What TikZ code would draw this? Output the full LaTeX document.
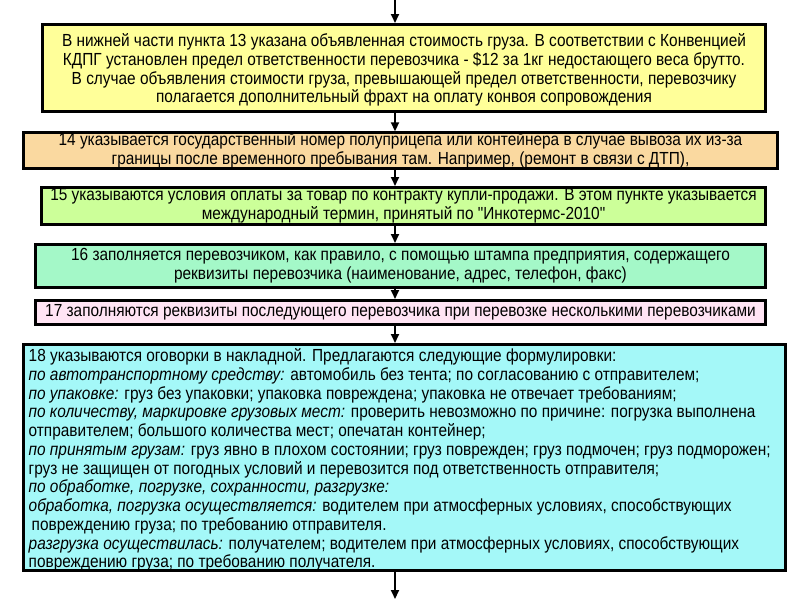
\documentclass[tikz,border=0pt]{standalone}
\usepackage{fontspec}
\setmainfont{Liberation Sans}[FakeStretch=0.88]
\newfontfamily\qf{Liberation Sans}[FakeStretch=0.88]
\newcommand{\sq}{{\qf"}}
\usetikzlibrary{arrows.meta}
\definecolor{cA}{HTML}{FFFF99}
\definecolor{cB}{HTML}{FAD9A0}
\definecolor{cC}{HTML}{CCFF99}
\definecolor{cD}{HTML}{A4F8C8}
\definecolor{cE}{HTML}{FFE4F4}
\definecolor{cF}{HTML}{A4F8F8}
\begin{document}
\begin{tikzpicture}[x=1pt,y=-1pt,
  txt/.style={inner sep=0pt,font=\fontsize{17.5}{18.75}\selectfont},
  box/.style={draw=black,line width=3pt,txt},
  arr/.style={line width=1.8pt,-{Triangle[length=9pt,width=8pt]}}]
\useasboundingbox (0,0) rectangle (800,600);
\coordinate (top) at (395,0);
\coordinate (bot) at (395,599);
\node[box,fill=cA,minimum width=723pt,minimum height=87pt] (b1) at (404,68) {};
\node[txt,align=center] (t1) at ([yshift=-2pt]b1.center)
 {В нижней  части пункта  13 указана объявленная стоимость груза. В соответствии с Конвенцией\\
  КДПГ установлен предел ответственности перевозчика -  \$12  за 1кг недостающего веса брутто.\\
  В случае объявления стоимости груза, превышающей предел ответственности, перевозчику\\
  полагается дополнительный  фрахт на  оплату конвоя сопровождения};
\node[box,fill=cB,minimum width=754pt,minimum height=34pt,align=center] (b2) at (400.5,150.5)
 {14 указывается государственный номер полуприцепа  или  контейнера в случае вывоза их из-за\\
  границы после временного пребывания там. Например, (ремонт в связи с ДТП),};
\node[box,fill=cC,minimum width=724pt,minimum height=37pt,align=center] (b3) at (403.5,206)
 {15 указываются условия оплаты за товар по контракту купли-продажи.  В этом пункте  указывается\\
  международный термин, принятый  по \sq Инкотермс-2010\sq};
\node[box,fill=cD,minimum width=730pt,minimum height=43pt,align=center] (b4) at (400.5,266)
 {16 заполняется перевозчиком, как правило,  с помощью штампа  предприятия,  содержащего\\
  реквизиты перевозчика (наименование,  адрес, телефон,  факс)};
\node[box,fill=cE,minimum width=730pt,minimum height=24pt,align=center] (b5) at (400.5,312.5)
 {17 заполняются реквизиты последующего  перевозчика при перевозке несколькими перевозчиками};
\node[box,fill=cF,minimum width=762pt,minimum height=226pt] (b6) at (404.5,457.5) {};
\node[txt,align=left,anchor=west] (t6) at ([xshift=6.5pt,yshift=-2.5pt]b6.west)
 {18 указываются оговорки в накладной.  Предлагаются следующие  формулировки:\\
  \textit{по автотранспортному средству:} автомобиль без тента; по согласованию с отправителем;\\
  \textit{по упаковке:} груз без упаковки;  упаковка повреждена; упаковка не отвечает требованиям;\\
  \textit{по количеству, маркировке грузовых мест:}  проверить невозможно по причине:  погрузка выполнена\\
  отправителем; большого количества мест; опечатан контейнер;\\
  \textit{по принятым грузам:} груз явно в плохом  состоянии; груз поврежден; груз подмочен; груз подморожен;\\
  груз не защищен  от погодных условий  и перевозится под ответственность отправителя;\\
  \textit{по обработке, погрузке, сохранности, разгрузке:}\\
  \textit{обработка, погрузка осуществляется:} водителем при  атмосферных условиях,  способствующих\\
  \hspace*{3pt}повреждению груза; по требованию отправителя.\\
  \textit{разгрузка осуществилась:} получателем;  водителем при атмосферных условиях,  способствующих\\
  повреждению груза; по требованию получателя.};
\draw[arr] (top) -- (b1.north -| top);
\draw[arr] (b1.south -| top) -- (b2.north -| top);
\draw[arr] (b2.south -| top) -- (b3.north -| top);
\draw[arr] (b3.south -| top) -- (b4.north -| top);
\draw[arr] (b4.south -| top) -- (b5.north -| top);
\draw[arr] (b5.south -| top) -- (b6.north -| top);
\draw[arr] (b6.south -| top) -- (bot);
\end{tikzpicture}
\end{document}
